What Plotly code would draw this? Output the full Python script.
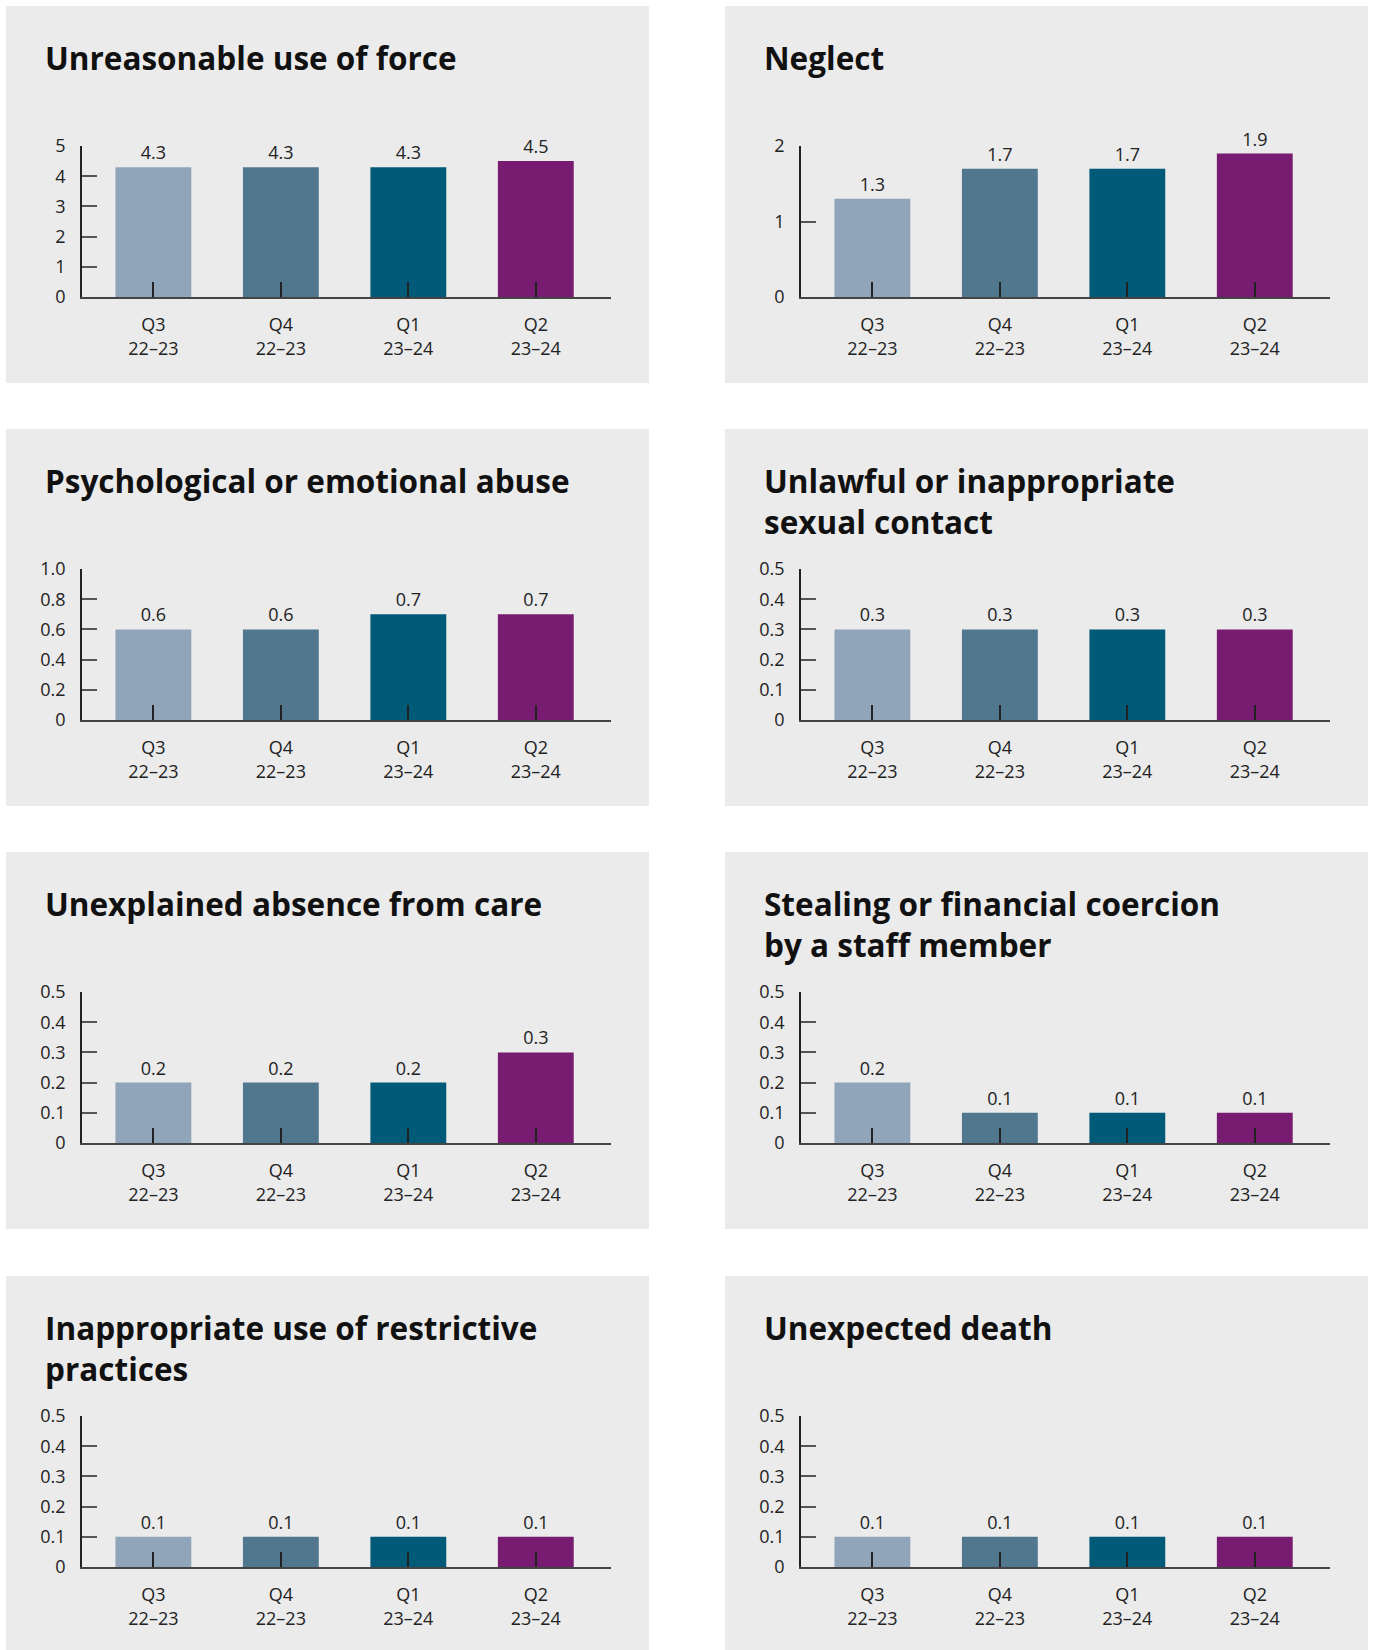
import plotly.graph_objects as go

W, H = 1373, 1650

quarters = ["Q3<br>22–23", "Q4<br>22–23", "Q1<br>23–24", "Q2<br>23–24"]
bar_colors = ["#91A5BA", "#51778F", "#005A78", "#771C70"]

titles = [
    "Unreasonable use of force",
    "Neglect",
    "Psychological or emotional abuse",
    "Unlawful or inappropriate<br>sexual contact",
    "Unexplained absence from care",
    "Stealing or financial coercion<br>by a staff member",
    "Inappropriate use of restrictive<br>practices",
    "Unexpected death",
]

force = [4.3, 4.3, 4.3, 4.5]
neglect = [1.3, 1.7, 1.7, 1.9]
psych = [0.6, 0.6, 0.7, 0.7]
sexual = [0.3, 0.3, 0.3, 0.3]
absence = [0.2, 0.2, 0.2, 0.3]
stealing = [0.2, 0.1, 0.1, 0.1]
restrictive = [0.1, 0.1, 0.1, 0.1]
death = [0.1, 0.1, 0.1, 0.1]
series = [force, neglect, psych, sexual, absence, stealing, restrictive, death]

small_ticks = [0, 0.1, 0.2, 0.3, 0.4, 0.5]
small_labels = ["0", "0.1", "0.2", "0.3", "0.4", "0.5"]
tick_vals = [
    [0, 1, 2, 3, 4, 5],
    [0, 1, 2],
    [0, 0.2, 0.4, 0.6, 0.8, 1.0],
    small_ticks, small_ticks, small_ticks, small_ticks, small_ticks,
]
tick_labels = [
    ["0", "1", "2", "3", "4", "5"],
    ["0", "1", "2"],
    ["0", "0.2", "0.4", "0.6", "0.8", "1.0"],
    small_labels, small_labels, small_labels, small_labels, small_labels,
]
y_max = [5, 2, 1.0, 0.5, 0.5, 0.5, 0.5, 0.5]

# panel geometry in pixels
panel_lefts = [6, 725]
panel_tops = [6, 429, 852, 1276]
panel_w, panel_h = 643, 377

TEXT = "#222222"
FONT = "Open Sans"

fig = go.Figure()
shapes = []
annotations = []
layout_axes = {}


def px_x(v):
    return v / W


def px_y(v):
    return 1 - v / H


for i, (title, vals) in enumerate(zip(titles, series)):
    row, col = divmod(i, 2)
    left = panel_lefts[col]
    top = panel_tops[row]
    n = i + 1
    xa = "x" if n == 1 else f"x{n}"
    ya = "y" if n == 1 else f"y{n}"

    # grey panel behind each chart
    shapes.append(dict(
        type="rect", xref="paper", yref="paper", layer="below",
        x0=px_x(left), x1=px_x(left + panel_w),
        y0=px_y(min(top + panel_h, H)), y1=px_y(top),
        fillcolor="#EBEBEB", line=dict(width=0),
    ))

    annotations.append(dict(
        text=f"<b>{title}</b>", xref="paper", yref="paper",
        x=px_x(left + 37), y=px_y(top + 28),
        xanchor="left", yanchor="top", align="left", showarrow=False,
        font=dict(family=FONT, size=31.5, color="#111111"),
    ))

    fig.add_trace(go.Bar(
        x=quarters, y=vals,
        marker=dict(color=bar_colors, line=dict(width=0)),
        width=0.595,
        text=[f"{v:.1f}" for v in vals],
        textposition="outside",
        cliponaxis=False,
        textfont=dict(family=FONT, size=18, color=TEXT),
        xaxis=xa, yaxis=ya,
        showlegend=False,
        hoverinfo="skip",
    ))

    base = top + 291
    ax_top = base - 151
    key = "" if n == 1 else str(n)
    layout_axes["xaxis" + key] = dict(
        domain=[px_x(left + 76), px_x(left + 605)],
        anchor=ya,
        range=[-0.56, 3.59],
        showline=True, linecolor="#444444", linewidth=1.5,
        ticks="inside", ticklen=15, tickwidth=1.5, tickcolor="#222222",
        showgrid=False, zeroline=False,
        tickfont=dict(family=FONT, size=18, color=TEXT),
        ticklabelstandoff=11,
        automargin=False,
        fixedrange=True,
    )
    layout_axes["yaxis" + key] = dict(
        domain=[px_y(base), px_y(ax_top)],
        anchor=xa,
        range=[0, y_max[i]],
        tickmode="array", tickvals=tick_vals[i], ticktext=tick_labels[i],
        showline=True, linecolor="#222222", linewidth=1.5,
        ticks="inside", ticklen=15, tickwidth=1.5, tickcolor="#555555",
        showgrid=False, zeroline=False,
        tickfont=dict(family=FONT, size=18, color=TEXT),
        ticklabelstandoff=11,
        automargin=False,
        fixedrange=True,
    )

fig.update_layout(
    width=W, height=H,
    margin=dict(l=0, r=0, t=0, b=0),
    paper_bgcolor="white",
    plot_bgcolor="rgba(0,0,0,0)",
    shapes=shapes,
    annotations=annotations,
    font=dict(family=FONT, color=TEXT),
    **layout_axes,
)

# drop the default page margin so the figure fills the window exactly
fig.write_html(
    "out.html",
    config={"displayModeBar": False},
    post_script="document.body.style.margin='0';document.body.style.overflow='hidden';",
)
